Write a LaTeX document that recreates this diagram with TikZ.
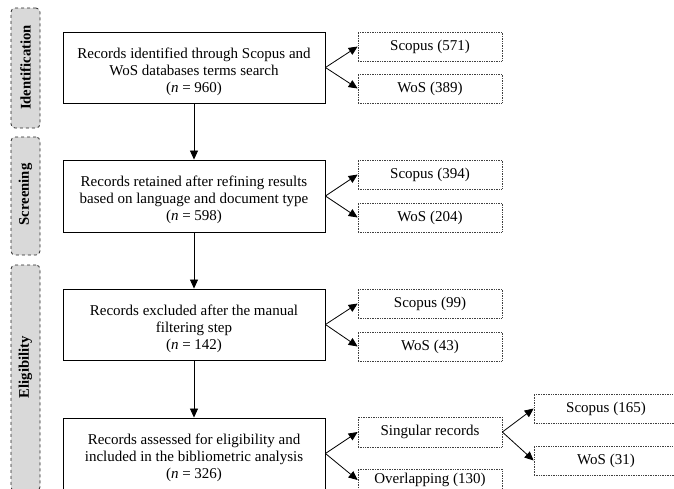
\documentclass[tikz,border=0pt]{standalone}
\usepackage{fontspec}
\setmainfont{Liberation Serif}
\usetikzlibrary{arrows.meta}
\newcommand{\toppad}{\rule{0pt}{18.5pt}}
\begin{document}
\begin{tikzpicture}[x=1pt,y=-1pt,
  mainbox/.style={draw=black,line width=0.9pt,minimum width=262pt,minimum height=71pt,align=center,font=\fontsize{15}{17}\selectfont,inner sep=0pt},
  sidebox/.style={draw=black!75,densely dotted,line width=0.7pt,minimum width=144pt,minimum height=29pt,font=\fontsize{15}{17}\selectfont,inner sep=0pt},
  phase/.style={draw=black!85,dashed,line width=0.8pt,rounded corners=4pt,fill=black!15,minimum width=29pt,inner sep=0pt},
  phasetext/.style={rotate=90,font=\bfseries\fontsize{14.7}{16}\selectfont},
  arr/.style={-{Triangle[length=9pt,width=8pt]},line width=0.8pt}]
\useasboundingbox (0,0) rectangle (674,488);
\begin{scope}
\clip (0,0) rectangle (674,488);
% phase labels
\node[phase,minimum height=120pt] (pid) at (25.5,68) {};
\node[phasetext] (tid) at (25.5,67.5) {Identification};
\node[phase,minimum height=118pt] (psc) at (25.5,196) {};
\node[phasetext] (tsc) at (25.5,194.5) {Screening};
\node[phase,minimum height=226pt] (pel) at (25.5,378) {};
\node[phasetext] (tel) at (25.5,367) {Eligibility};
% main boxes
\node[mainbox] (b1) at (194,67.5) {\toppad Records identified through Scopus and\\WoS databases terms search\\(\textit{n} = 960)};
\node[mainbox,minimum height=72pt] (b2) at (194,196) {\toppad Records retained after refining results\\based on language and document type\\(\textit{n} = 598)};
\node[mainbox] (b3) at (194,324.5) {\toppad Records excluded after the manual\\filtering step\\(\textit{n} = 142)};
\node[mainbox] (b4) at (194,453.5) {\toppad Records assessed for eligibility and\\included in the bibliometric analysis\\(\textit{n} = 326)};
% side boxes
\node[sidebox] (s1a) at (430,46.5) {Scopus (571)};
\node[sidebox] (s1b) at (430,88.5) {WoS (389)};
\node[sidebox] (s2a) at (430,174.5) {Scopus (394)};
\node[sidebox] (s2b) at (430,217.5) {WoS (204)};
\node[sidebox] (s3a) at (430,303.5) {Scopus (99)};
\node[sidebox] (s3b) at (430,346.5) {WoS (43)};
\node[sidebox,minimum height=30pt] (sing) at (430,432) {Singular records};
\node[sidebox,minimum height=22pt] (over) at (430,480) {Overlapping (130)};
\node[sidebox] (s5a) at (606,408.5) {Scopus (165)};
\node[sidebox] (s5b) at (606,460.5) {WoS (31)};
% arrows
\draw[arr] (b1) -- (b2);
\draw[arr] (b2) -- (b3);
\draw[arr] (b3) -- (b4);
\draw[arr] (b1.east) -- (s1a.west);
\draw[arr] (b1.east) -- (s1b.west);
\draw[arr] (b2.east) -- (s2a.west);
\draw[arr] (b2.east) -- (s2b.west);
\draw[arr] (b3.east) -- (s3a.west);
\draw[arr] (b3.east) -- (s3b.west);
\draw[arr] (b4.east) -- (sing.west);
\draw[arr] (b4.east) -- (over.west);
\draw[arr] (sing.east) -- (s5a.west);
\draw[arr] (sing.east) -- (s5b.west);
\end{scope}
\end{tikzpicture}
\end{document}
